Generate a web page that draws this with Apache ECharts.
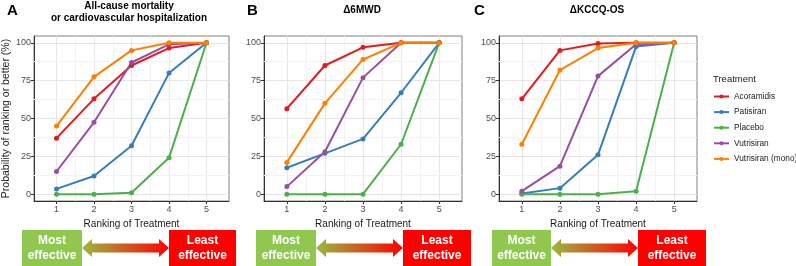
<!DOCTYPE html>
<html>
<head>
<meta charset="utf-8">
<script src="https://cdn.jsdelivr.net/npm/echarts@6/dist/echarts.min.js"></script>
<style>
  html, body { margin: 0; padding: 0; background: #fff; }
  #chart { width: 796px; height: 266px; }
</style>
</head>
<body>
<div id="chart"></div>
<script>
// 数据
var ranks = [1, 2, 3, 4, 5];
var treatments = ['Acoramidis', 'Patisiran', 'Placebo', 'Vutrisiran', 'Vutrisiran (mono)'];
var colors = ['#E41A1C', '#377EB8', '#4DAF4A', '#984EA3', '#FF7F00'];
var yTicks = [0, 25, 50, 75, 100];

// A: All-cause mortality or CV hospitalization, order = treatments
var mortality = [
    [37, 63, 85, 96.5, 100],
    [3.5, 12, 32, 80, 100],
    [0, 0, 1, 24, 100],
    [15, 47.5, 87, 99, 100],
    [45, 77.5, 95, 100, 100]
];
// B: Δ6MWD
var sixMwd = [
    [56.5, 85, 97, 100, 100],
    [17.5, 27, 36.5, 67, 100],
    [0, 0, 0, 33, 100],
    [5, 28, 77, 100, 100],
    [21, 60, 89, 100, 100]
];
// C: ΔKCCQ-OS
var kccq = [
    [63, 95, 99.5, 100, 100],
    [0.5, 4, 26, 97.5, 100],
    [0, 0, 0, 2, 100],
    [2, 18.5, 78, 99, 100],
    [33, 82, 96.5, 100, 100]
];

var panels = [
    { tag: 'A', tagX: 7, title: 'All-cause mortality\nor cardiovascular hospitalization', data: mortality, left: 31, arrow: [22, 82, 169, 236] },
    { tag: 'B', tagX: 247, title: 'Δ6MWD', data: sixMwd, left: 264, arrow: [256, 316, 403, 471] },
    { tag: 'C', tagX: 474, title: 'ΔKCCQ-OS', data: kccq, left: 499, arrow: [492, 551, 638, 706] }
];

var FONT = 'Liberation Sans, Arial, sans-serif';
var gridTop = 36, gridH = 165, gridW = 198;

var grids = [], xAxes = [], yAxes = [], series = [], titles = [], graphics = [];

panels.forEach(function(p, pi) {
    grids.push({
        left: p.left, top: gridTop, width: gridW, height: gridH,
        show: true, borderColor: '#808080', borderWidth: 1
    });
    xAxes.push({
        type: 'value', gridIndex: pi, min: 0.4, max: 5.6,
        name: 'Ranking of Treatment', nameLocation: 'middle', nameGap: 12,
        nameTextStyle: { fontFamily: FONT, fontSize: 10, color: '#1a1a1a' },
        axisLine: { show: true, onZero: false, lineStyle: { color: '#333', width: 1 } },
        axisTick: { show: true, length: 3, customValues: ranks, lineStyle: { color: '#333' } },
        axisLabel: { customValues: ranks, margin: 4, fontFamily: FONT, fontSize: 9, color: '#4d4d4d' },
        splitLine: { show: true, lineStyle: { color: '#e6e6e6', width: 1 } }
    });
    yAxes.push({
        type: 'value', gridIndex: pi, min: -4.5, max: 104.5,
        name: pi === 0 ? 'Probability of ranking or better (%)' : '',
        nameLocation: 'middle', nameGap: 22,
        nameTextStyle: { fontFamily: FONT, fontSize: 10.5, color: '#1a1a1a' },
        axisLine: { show: true, onZero: false, lineStyle: { color: '#333', width: 1 } },
        axisTick: { show: true, length: 3, customValues: yTicks, lineStyle: { color: '#333' } },
        axisLabel: { customValues: yTicks, margin: 3, fontFamily: FONT, fontSize: 9, color: '#4d4d4d' },
        splitLine: { show: true, lineStyle: { color: '#e6e6e6', width: 1 } }
    });

    // 次网格线
    series.push({
        type: 'line', xAxisIndex: pi, yAxisIndex: pi, data: [], z: 1, silent: true,
        markLine: {
            silent: true, symbol: 'none', label: { show: false }, z: 1,
            lineStyle: { color: '#f3f3f3', type: 'solid', width: 1 },
            data: [1.5, 2.5, 3.5, 4.5].map(function(v) { return { xAxis: v }; })
                .concat([12.5, 37.5, 62.5, 87.5].map(function(v) { return { yAxis: v }; }))
        }
    });

    p.data.forEach(function(vals, ti) {
        series.push({
            type: 'line', name: treatments[ti], xAxisIndex: pi, yAxisIndex: pi,
            data: vals.map(function(v, i) { return [ranks[i], v]; }),
            symbol: 'circle', symbolSize: 5, z: 3,
            itemStyle: { color: colors[ti], borderWidth: 0 },
            lineStyle: { color: colors[ti], width: 2 },
            emphasis: { disabled: true }
        });
    });

    titles.push({
        text: p.tag, left: p.tagX, top: 3, padding: 0,
        textStyle: { fontFamily: FONT, fontSize: 15, fontWeight: 'bold', color: '#000' }
    });
    titles.push({
        text: p.title, left: p.left + gridW / 2 - 1, textAlign: 'center',
        top: pi === 0 ? 0.5 : 4.5, padding: 0,
        textStyle: { fontFamily: FONT, fontSize: 10, fontWeight: 'bold', color: '#000', lineHeight: 12 }
    });

    // 底部箭头
    var a = p.arrow, yc = 248;
    graphics.push({
        type: 'rect', shape: { x: a[0], y: 230, width: a[1] - a[0], height: 36 },
        style: { fill: '#8FC74F' }
    });
    graphics.push({
        type: 'rect', shape: { x: a[2], y: 230, width: a[3] - a[2], height: 36 },
        style: { fill: '#FF0000' }
    });
    graphics.push({
        type: 'text', x: (a[0] + a[1]) / 2, y: yc,
        style: { text: 'Most\neffective', fill: '#fff', font: 'bold 12px ' + FONT, align: 'center', verticalAlign: 'middle', lineHeight: 15 }
    });
    graphics.push({
        type: 'text', x: (a[2] + a[3]) / 2, y: yc,
        style: { text: 'Least\neffective', fill: '#fff', font: 'bold 12px ' + FONT, align: 'center', verticalAlign: 'middle', lineHeight: 15 }
    });
    var x0 = a[1], x1 = a[2];
    graphics.push({
        type: 'polygon',
        shape: { points: [
            [x0, yc], [x0 + 10, yc - 9], [x0 + 10, yc - 4.5], [x1 - 10, yc - 4.5], [x1 - 10, yc - 9],
            [x1, yc], [x1 - 10, yc + 9], [x1 - 10, yc + 4.5], [x0 + 10, yc + 4.5], [x0 + 10, yc + 9]
        ] },
        style: {
            fill: new echarts.graphic.LinearGradient(0, 0, 1, 0, [
                { offset: 0, color: '#9BB83E' },
                { offset: 1, color: '#FF0000' }
            ])
        }
    });
});

titles.push({
    text: 'Treatment', left: 713, top: 74.5, padding: 0,
    textStyle: { fontFamily: FONT, fontSize: 9.5, fontWeight: 'normal', color: '#1a1a1a' }
});

var chart = echarts.init(document.getElementById('chart'), null, { renderer: 'canvas' });
chart.setOption({
    animation: false,
    backgroundColor: '#fff',
    title: titles,
    grid: grids,
    xAxis: xAxes,
    yAxis: yAxes,
    legend: {
        data: treatments, orient: 'vertical', left: 713, top: 92.5, padding: 0,
        itemWidth: 15, itemHeight: 5, itemGap: 7.6,
        textStyle: { fontFamily: FONT, fontSize: 8.3, color: '#1a1a1a' },
        selectedMode: false
    },
    graphic: graphics,
    series: series
});
</script>
</body>
</html>
